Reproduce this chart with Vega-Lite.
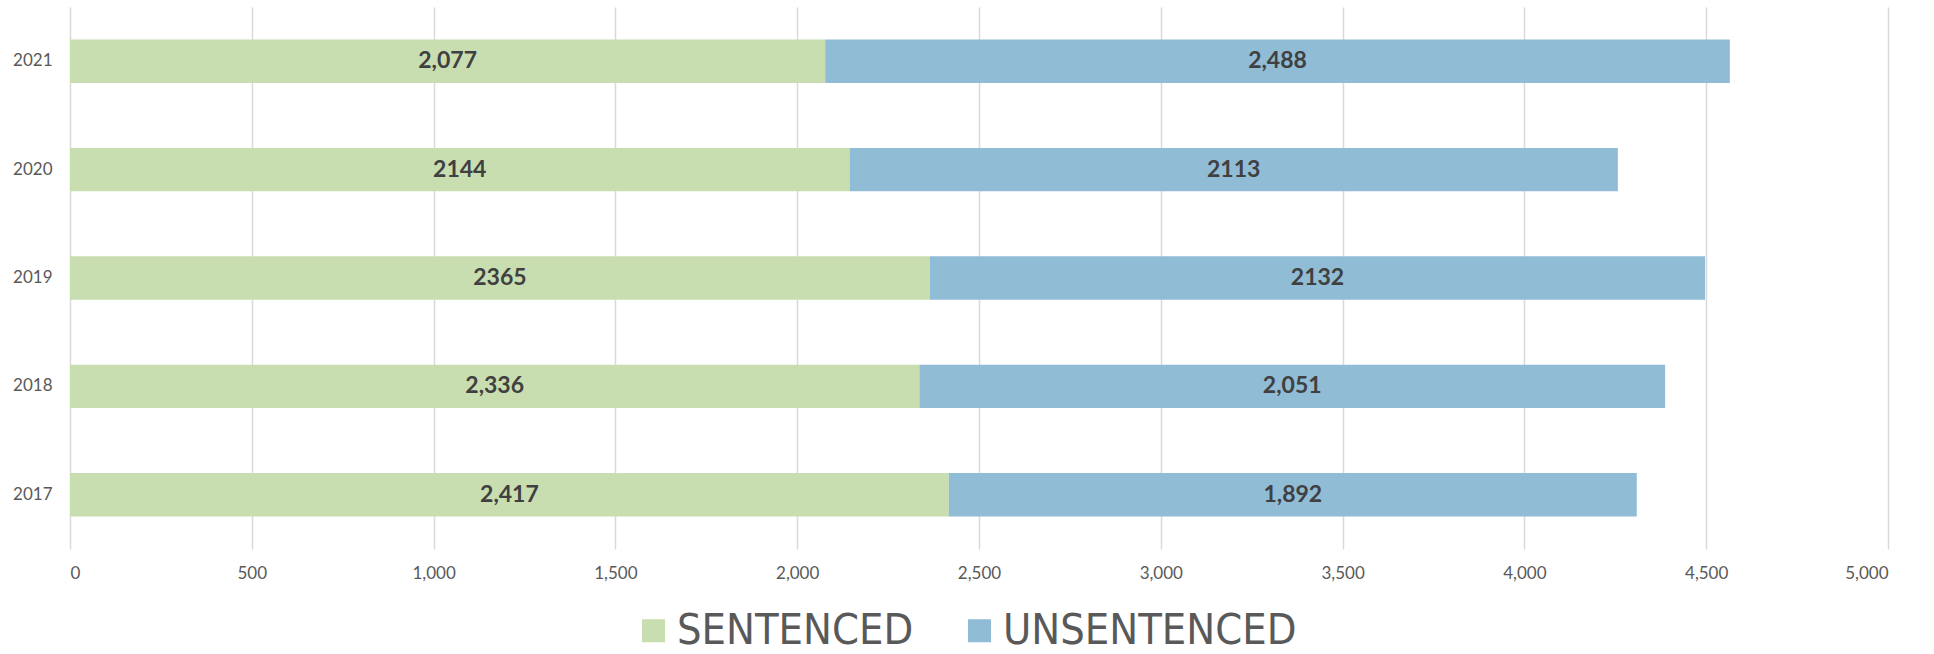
{
  "$schema": "https://vega.github.io/schema/vega-lite/v6.json",
  "autosize": {"type": "none"},
  "padding": {"left": 70, "top": 7, "right": 46, "bottom": 105},
  "width": 1818,
  "height": 542,
  "background": "white",
  "config": {"view": {"stroke": null}},
  "data": {"values": [
    {"year": "2021", "status": "SENTENCED", "count": 2077, "label": "2,077"},
    {"year": "2021", "status": "UNSENTENCED", "count": 2488, "label": "2,488"},
    {"year": "2020", "status": "SENTENCED", "count": 2144, "label": "2144"},
    {"year": "2020", "status": "UNSENTENCED", "count": 2113, "label": "2113"},
    {"year": "2019", "status": "SENTENCED", "count": 2365, "label": "2365"},
    {"year": "2019", "status": "UNSENTENCED", "count": 2132, "label": "2132"},
    {"year": "2018", "status": "SENTENCED", "count": 2336, "label": "2,336"},
    {"year": "2018", "status": "UNSENTENCED", "count": 2051, "label": "2,051"},
    {"year": "2017", "status": "SENTENCED", "count": 2417, "label": "2,417"},
    {"year": "2017", "status": "UNSENTENCED", "count": 1892, "label": "1,892"}
  ]},
  "encoding": {
    "y": {
      "field": "year", "type": "nominal", "sort": "descending",
      "scale": {"paddingInner": 0.6, "paddingOuter": 0.3},
      "axis": {"title": null, "domain": false, "ticks": false, "labelPadding": 18,
               "labelFont": "Lato", "labelFontSize": 17, "labelColor": "#595959"}
    },
    "x": {
      "field": "count", "type": "quantitative", "stack": "zero",
      "scale": {"domain": [0, 5000], "nice": false},
      "axis": {"title": null, "domain": false, "ticks": false, "labelPadding": 16,
               "values": [0, 500, 1000, 1500, 2000, 2500, 3000, 3500, 4000, 4500, 5000],
               "format": ",d", "grid": true, "gridColor": "#d9d9d9", "gridWidth": 1.5,
               "labelFont": "Lato", "labelFontSize": 17, "labelColor": "#595959"}
    },
    "order": {"field": "status", "type": "nominal", "sort": "ascending"}
  },
  "layer": [
    {
      "mark": {"type": "bar"},
      "encoding": {
        "color": {
          "field": "status", "type": "nominal",
          "scale": {"domain": ["SENTENCED", "UNSENTENCED"], "range": ["#C8DEB0", "#90BCD6"]},
          "legend": {
            "title": null, "orient": "none", "direction": "horizontal",
            "legendX": 562, "legendY": 602,
            "symbolType": "square", "symbolSize": 529,
            "symbolStrokeWidth": 0, "labelOffset": 2, "columnPadding": 44,
            "labelFont": "DejaVu Sans Condensed, Roboto, sans-serif", "labelFontSize": 43, "labelColor": "#595959",
            "labelLimit": 500
          }
        }
      }
    },
    {
      "mark": {"type": "text", "font": "Lato", "fontWeight": "bold", "fontSize": 23, "color": "#404040"},
      "encoding": {
        "x": {"field": "count", "type": "quantitative", "stack": "zero", "bandPosition": 0.5},
        "text": {"field": "label", "type": "nominal"},
        "detail": {"field": "status", "type": "nominal"}
      }
    }
  ]
}
